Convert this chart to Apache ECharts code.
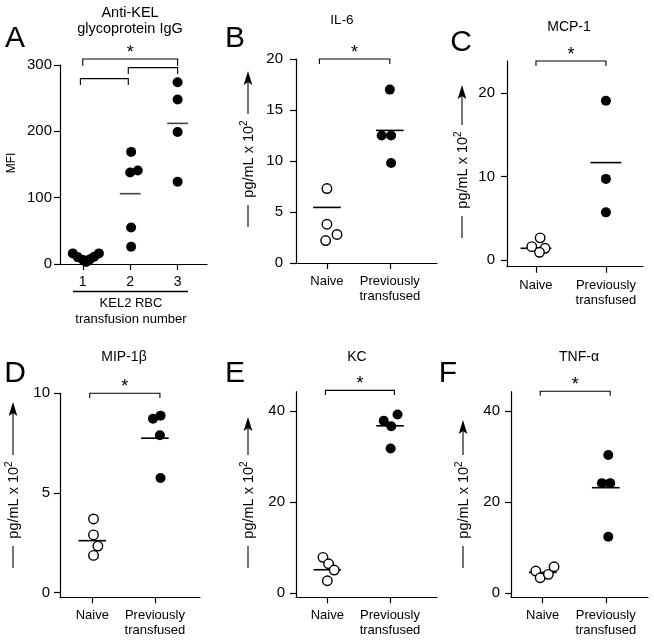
<!DOCTYPE html>
<html><head><meta charset="utf-8">
<script src="https://cdn.jsdelivr.net/npm/echarts@6/dist/echarts.min.js"></script>
<style>html,body{margin:0;padding:0;background:#fff}#c{width:654px;height:641px}</style>
</head><body><div id="c"></div>
<script>
// ================= DATA =================
// Panel A: Anti-KEL glycoprotein IgG, MFI by KEL2 RBC transfusion number
const aCategories = ['1', '2', '3'];
const aTransfusion1 = [16, 10, 6, 3, 7, 11, 16];
const aTransfusion1Jitter = [-0.21, -0.1, 0.01, 0.07, 0.15, 0.24, 0.34];
const aTransfusion2 = [169, 138, 141, 55, 26];
const aTransfusion2Jitter = [0.02, 0.0, 0.16, 0.02, 0.02];
const aTransfusion3 = [274, 248, 199, 124];
const aTransfusion3Jitter = [0, 0, 0, 0];
const aMeans = [10, 106, 212];
const aTicks = [0, 100, 200, 300];

// Cytokine panels (pg/mL x 10^2): Naive vs Previously transfused
const cytoCategories = ['Naive', 'Previously\ntransfused'];

const il6Naive = [7.3, 3.8, 2.8, 2.2];
const il6NaiveJitter = [0.0, 0.0, 0.16, -0.02];
const il6Prev = [17.0, 12.5, 12.5, 9.8];
const il6PrevJitter = [0.0, -0.13, 0.02, 0.02];
const il6Means = [5.45, 13.0];
const il6Ticks = [0, 5, 10, 15, 20];

const mcp1Naive = [2.65, 1.6, 1.4, 0.92];
const mcp1NaiveJitter = [0.06, -0.06, 0.13, 0.05];
const mcp1Prev = [19.05, 9.7, 5.7];
const mcp1PrevJitter = [0, 0, 0];
const mcp1Means = [1.4, 11.65];
const mcp1Ticks = [0, 10, 20];

const mip1bNaive = [3.7, 2.9, 2.34, 1.87];
const mip1bNaiveJitter = [0.02, 0.02, 0.09, 0.02];
const mip1bPrev = [8.72, 8.88, 7.9, 5.75];
const mip1bPrevJitter = [-0.03, 0.09, 0.08, 0.09];
const mip1bMeans = [2.61, 7.75];
const mip1bTicks = [0, 5, 10];

const kcNaive = [7.78, 6.38, 4.99, 2.64];
const kcNaiveJitter = [-0.07, 0.02, 0.11, 0.0];
const kcPrev = [37.8, 39.2, 36.6, 31.7];
const kcPrevJitter = [-0.1, 0.12, 0.02, 0.01];
const kcMeans = [5.06, 36.7];
const kcTicks = [0, 20, 40];

const tnfNaive = [4.77, 3.3, 4.04, 5.72];
const tnfNaiveJitter = [-0.11, -0.04, 0.09, 0.18];
const tnfPrev = [30.3, 24.1, 24.1, 12.3];
const tnfPrevJitter = [0.04, -0.06, 0.07, 0.04];
const tnfMeans = [4.47, 23.1];
const tnfTicks = [0, 20, 40];

// significance brackets: [xStart, xEnd, yBar, yTip, hasStar]
const aBrackets = [[1, 3, 309, 299, 1], [0.95, 1.96, 279.5, 270, 0], [1.96, 3, 296, 286.6, 0]];
const il6Brackets = [[0.88, 2.0, 20, 19.5, 1]];
const mcp1Brackets = [[1, 2, 23.8, 23.2, 1]];
const mip1bBrackets = [[0.96, 2.08, 10, 9.77, 1]];
const kcBrackets = [[0.97, 2.07, 44.5, 43.5, 1]];
const tnfBrackets = [[0.96, 2.07, 44.3, 43.3, 1]];

// ================= LAYOUT / STYLE =================
const FF = "'Liberation Sans', Arial, Helvetica, sans-serif";
const panels = [
  { left: 60, top: 65, width: 147, height: 199, xMin: 0.52, xMax: 3.62, yMin: 0, yMax: 300,
    yTicks: aTicks, xLabels: aCategories, yMargin: 8, xFont: 14,
    groups: [[aTransfusion1, aTransfusion1Jitter, false], [aTransfusion2, aTransfusion2Jitter, false], [aTransfusion3, aTransfusion3Jitter, false]],
    means: aMeans, brackets: aBrackets, meanColor: '#444' },
  { left: 296, top: 59, width: 141, height: 204, xMin: 0.508, xMax: 2.75, yMin: 0, yMax: 20,
    yTicks: il6Ticks, xLabels: cytoCategories, yMargin: 13, xFont: 13,
    groups: [[il6Naive, il6NaiveJitter, true], [il6Prev, il6PrevJitter, false]],
    means: il6Means, brackets: il6Brackets, meanColor: '#000' },
  { left: 507, top: 61, width: 136, height: 205.7, xMin: 0.586, xMax: 2.53, yMin: -0.8, yMax: 23.8,
    yTicks: mcp1Ticks, xLabels: cytoCategories, yMargin: 12, xFont: 13,
    groups: [[mcp1Naive, mcp1NaiveJitter, true], [mcp1Prev, mcp1PrevJitter, false]],
    means: mcp1Means, brackets: mcp1Brackets, meanColor: '#000' },
  { left: 60, top: 393.3, width: 140, height: 204, xMin: 0.485, xMax: 2.72, yMin: -0.23, yMax: 10,
    yTicks: mip1bTicks, xLabels: cytoCategories, yMargin: 10, xFont: 13,
    groups: [[mip1bNaive, mip1bNaiveJitter, true], [mip1bPrev, mip1bPrevJitter, false]],
    means: mip1bMeans, brackets: mip1bBrackets, meanColor: '#000' },
  { left: 296, top: 391.7, width: 141, height: 205.6, xMin: 0.5, xMax: 2.75, yMin: -1, yMax: 44.2,
    yTicks: kcTicks, xLabels: cytoCategories, yMargin: 11, xFont: 13,
    groups: [[kcNaive, kcNaiveJitter, true], [kcPrev, kcPrevJitter, false]],
    means: kcMeans, brackets: kcBrackets, meanColor: '#000' },
  { left: 511, top: 391.7, width: 137, height: 205.6, xMin: 0.497, xMax: 2.67, yMin: -1, yMax: 44.2,
    yTicks: tnfTicks, xLabels: cytoCategories, yMargin: 11, xFont: 13,
    groups: [[tnfNaive, tnfNaiveJitter, true], [tnfPrev, tnfPrevJitter, false]],
    means: tnfMeans, brackets: tnfBrackets, meanColor: '#000' }
];

const axisLineStyle = { color: '#000', width: 1.2 };
const grids = [], xAxes = [], yAxes = [], series = [];

panels.forEach((p, i) => {
  grids.push({ left: p.left, top: p.top, width: p.width, height: p.height });
  const xVals = p.xLabels.map((_, k) => k + 1);
  xAxes.push({
    type: 'value', gridIndex: i, min: p.xMin, max: p.xMax,
    axisLine: { show: true, onZero: false, lineStyle: axisLineStyle },
    axisTick: { show: true, customValues: xVals, length: 6, lineStyle: axisLineStyle },
    axisLabel: { show: true, customValues: xVals, formatter: v => p.xLabels[Math.round(v) - 1] || '',
      margin: 11, fontSize: p.xFont, lineHeight: 15, color: '#000', fontFamily: FF },
    splitLine: { show: false }
  });
  yAxes.push({
    type: 'value', gridIndex: i, min: p.yMin, max: p.yMax,
    axisLine: { show: true, onZero: false, lineStyle: axisLineStyle },
    axisTick: { show: true, customValues: p.yTicks, length: 6, lineStyle: axisLineStyle },
    axisLabel: { show: true, customValues: p.yTicks, margin: p.yMargin, fontSize: 15, color: '#000', fontFamily: FF },
    splitLine: { show: false }
  });
  // mean lines
  series.push({
    type: 'custom', xAxisIndex: i, yAxisIndex: i, z: 2,
    data: p.means.map((m, k) => [k + 1, m]),
    renderItem: (params, api) => {
      const c = api.value(0), m = api.value(1), hw = 0.22;
      const a = api.coord([c - hw, m]), b = api.coord([c + hw, m]);
      return { type: 'line', shape: { x1: a[0], y1: a[1], x2: b[0], y2: b[1] },
        style: { stroke: p.meanColor, lineWidth: 1.6 } };
    }
  });
  // points
  p.groups.forEach((g, k) => {
    const [vals, jit, open] = g;
    series.push({
      type: 'scatter', xAxisIndex: i, yAxisIndex: i, z: 3,
      symbol: 'circle', symbolSize: open ? 9.5 : 10,
      itemStyle: open ? { color: '#fff', borderColor: '#000', borderWidth: 1.4, opacity: 1 } : { color: '#000', opacity: 1 },
      emphasis: { disabled: true },
      data: vals.map((v, j) => [k + 1 + jit[j], v]),
      clip: false
    });
  });
  // brackets
  series.push({
    type: 'custom', xAxisIndex: i, yAxisIndex: i, z: 4, clip: false,
    data: p.brackets.map(b => [b[0], b[2]]),
    renderItem: (params, api) => {
      const b = p.brackets[params.dataIndex];
      const p0 = api.coord([b[0], b[3]]), p1 = api.coord([b[0], b[2]]);
      const p2 = api.coord([b[1], b[2]]), p3 = api.coord([b[1], b[3]]);
      const children = [{ type: 'polyline', shape: { points: [p0, p1, p2, p3] },
        style: { stroke: '#000', lineWidth: 1.1, fill: null } }];
      if (b[4]) {
        children.push({ type: 'text', x: (p1[0] + p2[0]) / 2, y: p1[1] - 6,
          style: { text: '*', fontSize: 18, fontFamily: FF, fill: '#000', align: 'center', verticalAlign: 'middle' } });
      }
      return { type: 'group', children };
    }
  });
});

// ---- text annotations ----
const graphic = [];
function txt(x, y, text, size, extra) {
  graphic.push(Object.assign({ type: 'text', x, y,
    style: { text, fontSize: size, fontFamily: FF, fill: '#000', align: 'center', verticalAlign: 'middle' } }, extra || {}));
}
// panel letters
[['A', 15, 39], ['B', 235, 39], ['C', 461, 43], ['D', 15, 374], ['E', 235, 374], ['F', 448, 374]]
  .forEach(l => txt(l[1], l[2], l[0], 30));
// titles
txt(130, 13, 'Anti-KEL', 14.5);
txt(130, 29, 'glycoprotein IgG', 14.5);
txt(342, 20, 'IL-6', 13.5);
txt(569, 27, 'MCP-1', 14);
txt(124, 357, 'MIP-1β', 14);
txt(357, 357, 'KC', 14);
txt(579, 357, 'TNF-α', 14);
// MFI
txt(12, 163, 'MFI', 12, { rotation: Math.PI / 2 });
// KEL2 RBC underline and labels
graphic.push({ type: 'line', shape: { x1: 73, y1: 291.5, x2: 188, y2: 291.5 }, style: { stroke: '#000', lineWidth: 1.3 } });
txt(131, 303, 'KEL2 RBC', 13);
txt(131, 319, 'transfusion number', 13);
// y-axis labels with arrows
function yArrowLabel(x, tip, bottom) {
  const center = bottom - 68;
  graphic.push({ type: 'text', x, y: center, rotation: Math.PI / 2,
    style: { text: '{n|pg/mL x 10}{s|2}', fontFamily: FF, fill: '#000', align: 'center', verticalAlign: 'middle',
      rich: { n: { fontSize: 14.5, fontFamily: FF, fill: '#000', lineHeight: 17, verticalAlign: 'bottom' },
              s: { fontSize: 10, fontFamily: FF, fill: '#000', lineHeight: 17, verticalAlign: 'top' } } } });
  graphic.push({ type: 'line', shape: { x1: x, y1: bottom, x2: x, y2: center + 46 }, style: { stroke: '#000', lineWidth: 1.1 } });
  graphic.push({ type: 'line', shape: { x1: x, y1: center - 45, x2: x, y2: tip + 10 }, style: { stroke: '#000', lineWidth: 1.1 } });
  graphic.push({ type: 'polygon', shape: { points: [[x, tip], [x - 4.3, tip + 14], [x, tip + 11], [x + 4.3, tip + 14]] },
    style: { fill: '#000' } });
}
yArrowLabel(248, 71, 227);
yArrowLabel(462, 85, 238);
yArrowLabel(13, 402, 568);
yArrowLabel(248, 417, 568);
yArrowLabel(463, 420, 568);

const chart = echarts.init(document.getElementById('c'), null, { renderer: 'canvas' });
chart.setOption({
  backgroundColor: '#fff',
  animation: false,
  grid: grids, xAxis: xAxes, yAxis: yAxes, series, graphic
});
</script></body></html>
